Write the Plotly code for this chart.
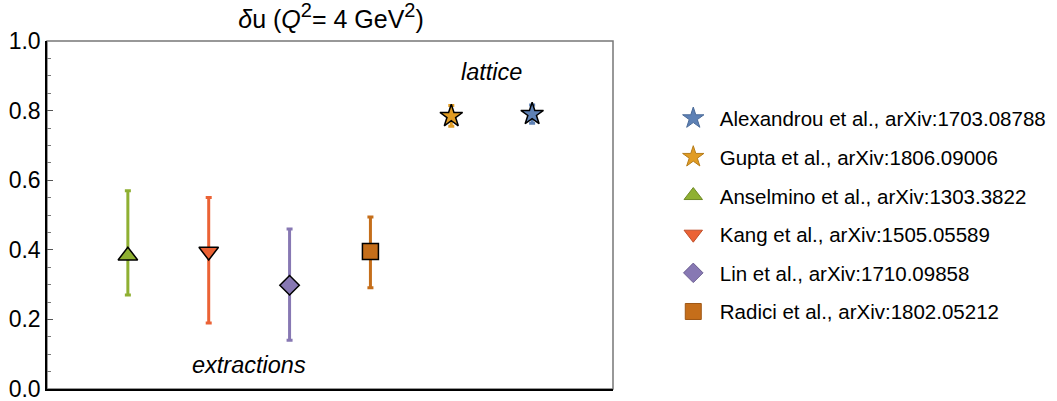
import plotly.graph_objects as go

# Transversity δu at Q^2 = 4 GeV^2: lattice results and phenomenological extractions
names = [
    "Alexandrou et al., arXiv:1703.08788",
    "Gupta et al., arXiv:1806.09006",
    "Anselmino et al., arXiv:1303.3822",
    "Kang et al., arXiv:1505.05589",
    "Lin et al., arXiv:1710.09858",
    "Radici et al., arXiv:1802.05212",
]
xpos = [6, 5, 1, 2, 3, 4]
values = [0.79, 0.784, 0.383, 0.395, 0.298, 0.395]
err_plus = [0.026, 0.031, 0.187, 0.155, 0.162, 0.099]
err_minus = [0.026, 0.029, 0.113, 0.205, 0.158, 0.104]
colors = ["#5E81B5", "#E19C24", "#8FB032", "#EB6235", "#8778B3", "#C56E1A"]
edge_colors = ["#4A6A98", "#B57C1A", "#6F8A26", "#BF4F2A", "#6C5F92", "#9E5815"]
symbols = ["star", "star", "triangle-up", "triangle-down", "diamond", "square"]
sizes = [17, 17, 17, 17, 15, 16]

FONT = "Liberation Sans, Arial, Helvetica, sans-serif"

fig = go.Figure()

# data points with error bars (black-outlined markers)
for i in range(len(names)):
    fig.add_trace(go.Scatter(
        x=[xpos[i]], y=[values[i]],
        mode="markers",
        marker=dict(symbol=symbols[i], size=sizes[i], color=colors[i],
                    line=dict(color="black", width=1.5)),
        error_y=dict(type="data", symmetric=False,
                     array=[err_plus[i]], arrayminus=[err_minus[i]],
                     color=colors[i], thickness=3, width=3),
        showlegend=False,
        hoverinfo="skip",
    ))

# legend entries (markers outlined in a darker shade of their own colour)
for i in range(len(names)):
    fig.add_trace(go.Scatter(
        x=[None], y=[None],
        mode="markers",
        name=names[i],
        legendgroup=str(i),
        marker=dict(symbol=symbols[i], size=sizes[i], color=colors[i],
                    line=dict(color=edge_colors[i], width=1)),
    ))

# plot frame: light top/right edges
fig.add_shape(type="rect", xref="paper", yref="paper", x0=0, x1=1, y0=0, y1=1,
              line=dict(color="#777777", width=1.5), layer="below")

fig.add_annotation(x=5.5, y=0.91, text="<i>lattice</i>", showarrow=False,
                   font=dict(family=FONT, size=23.5, color="black"))
fig.add_annotation(x=2.5, y=0.068, text="<i>extractions</i>", showarrow=False,
                   font=dict(family=FONT, size=23.5, color="black"))

sup2 = "<sup><span style='font-size:20px'>2</span></sup>"
fig.update_layout(
    width=1057, height=401,
    margin=dict(l=47, r=444, t=41, b=12, autoexpand=False),
    paper_bgcolor="white", plot_bgcolor="white",
    font=dict(family=FONT, size=23, color="black"),
    title=dict(text=f"<i>δ</i>u (<i>Q</i>{sup2}= 4 GeV{sup2})",
               x=331 / 1057, xanchor="center", y=1 - 19 / 401, yanchor="middle",
               font=dict(family=FONT, size=25, color="black")),
    legend=dict(x=1.095, y=0.835, xanchor="left", yanchor="top",
                font=dict(family=FONT, size=20.5, color="black"),
                tracegroupgap=9, itemsizing="trace", itemwidth=43,
                bgcolor="rgba(0,0,0,0)"),
    xaxis=dict(range=[0, 7], showticklabels=False, ticks="", showgrid=False,
               zeroline=False, showline=True, linecolor="black", linewidth=1.5,
               automargin=False),
    yaxis=dict(range=[0, 1], tick0=0, dtick=0.2, tickformat=".1f",
               ticks="inside", ticklen=6, tickwidth=1, tickcolor="#555555",
               minor=dict(dtick=0.05, ticks="inside", ticklen=4, tickcolor="#777777"),
               showgrid=False, zeroline=False, showline=True,
               linecolor="black", linewidth=1.5, ticklabeloverflow="allow",
               automargin=False,
               tickfont=dict(family=FONT, size=23, color="black")),
)

fig.write_html("out.html")
